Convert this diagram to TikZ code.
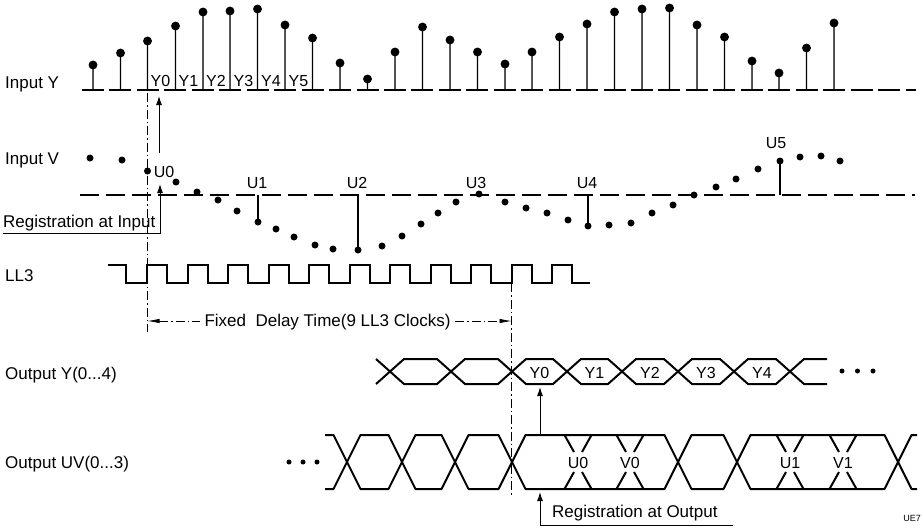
\documentclass[tikz,border=0pt]{standalone}
\usepackage{fontspec}
\setmainfont{Liberation Sans}
\usetikzlibrary{arrows.meta}

\begin{document}
\begin{tikzpicture}[x=1pt,y=1pt,yscale=-1,xscale=1,
	lab/.style={font=\fontsize{17}{20}\selectfont,inner sep=0pt},
	tag/.style={font=\fontsize{16}{19}\selectfont,inner sep=0pt,anchor=base},
	ystem/.style={line width=1.4pt},
	axisline/.style={line width=2.2pt},
	clk/.style={line width=2pt,line join=miter},
	bus/.style={line width=2pt,line join=round},
	regarrow/.style={line width=1pt,-{Latex[length=9pt,width=6pt]}},
	dimline/.style={line width=0.7pt,dash pattern=on 9pt off 3pt on 1.5pt off 3pt}]
		\useasboundingbox (0,0) rectangle (924,530);
		
		\node [lab,anchor=base west] (inY) at (5,88) {Input Y};
		\node [lab,anchor=base west] (inV) at (5,164) {Input V};
		\node [lab,anchor=base west] (ll3) at (5,281) {LL3};
		\node [lab,anchor=base west] (outY) at (5,379) {Output Y(0...4)};
		\node [lab,anchor=base west] (outUV) at (5,468) {Output UV(0...3)};
		
		\draw [axisline,dash pattern=on 22pt off 5.45pt] (82,90) -- (916,90) ;
		\filldraw [ystem] (93,90) -- (93,65) circle [radius=3.7] ;
		\filldraw [ystem] (120.5,90) -- (120.5,53) circle [radius=3.7] ;
		\filldraw [ystem] (147.5,90) -- (147.5,41) circle [radius=3.7] ;
		\filldraw [ystem] (175.5,90) -- (175.5,26) circle [radius=3.7] ;
		\filldraw [ystem] (203,90) -- (203,12) circle [radius=3.7] ;
		\filldraw [ystem] (230,90) -- (230,11) circle [radius=3.7] ;
		\filldraw [ystem] (257.5,90) -- (257.5,9) circle [radius=3.7] ;
		\filldraw [ystem] (285,90) -- (285,25) circle [radius=3.7] ;
		\filldraw [ystem] (312.5,90) -- (312.5,38) circle [radius=3.7] ;
		\filldraw [ystem] (340,90) -- (340,63) circle [radius=3.7] ;
		\filldraw [ystem] (367.5,90) -- (367.5,79) circle [radius=3.7] ;
		\filldraw [ystem] (395,90) -- (395,52) circle [radius=3.7] ;
		\filldraw [ystem] (422.5,90) -- (422.5,27) circle [radius=3.7] ;
		\filldraw [ystem] (450,90) -- (450,40) circle [radius=3.7] ;
		\filldraw [ystem] (477.5,90) -- (477.5,52) circle [radius=3.7] ;
		\filldraw [ystem] (505,90) -- (505,64) circle [radius=3.7] ;
		\filldraw [ystem] (532,90) -- (532,52) circle [radius=3.7] ;
		\filldraw [ystem] (559.5,90) -- (559.5,37) circle [radius=3.7] ;
		\filldraw [ystem] (587,90) -- (587,24) circle [radius=3.7] ;
		\filldraw [ystem] (614.5,90) -- (614.5,12) circle [radius=3.7] ;
		\filldraw [ystem] (642,90) -- (642,9) circle [radius=3.7] ;
		\filldraw [ystem] (669.5,90) -- (669.5,8) circle [radius=3.7] ;
		\filldraw [ystem] (697,90) -- (697,25) circle [radius=3.7] ;
		\filldraw [ystem] (724.5,90) -- (724.5,37) circle [radius=3.7] ;
		\filldraw [ystem] (752,90) -- (752,61) circle [radius=3.7] ;
		\filldraw [ystem] (779,90) -- (779,73) circle [radius=3.7] ;
		\filldraw [ystem] (806.5,90) -- (806.5,48) circle [radius=3.7] ;
		\filldraw [ystem] (834,90) -- (834,23) circle [radius=3.7] ;
		
		\node [tag] (y0) at (160.5,86) {Y0};
		\node [tag] (y1) at (188.5,86) {Y1};
		\node [tag] (y2) at (216,86) {Y2};
		\node [tag] (y3) at (243.5,86) {Y3};
		\node [tag] (y4) at (271,86) {Y4};
		\node [tag] (y5) at (298.5,86) {Y5};
		
		\draw [axisline,dash pattern=on 19pt off 7pt] (80,195) -- (915,195) ;
		\draw [ystem] (258,195) -- (258,222) ;
		\draw [ystem] (358,195) -- (358,250) ;
		\draw [ystem] (588,195) -- (588,226) ;
		\draw [ystem] (780,195) -- (780,161) ;
		\fill (90,158) circle [radius=3.5] (122,160) circle [radius=3.5] (147.5,171) circle [radius=3.5] (176,182) circle [radius=3.5] ;
		\fill (197,192) circle [radius=3.5] (218,200) circle [radius=3.5] (237,211) circle [radius=3.5] (258,222) circle [radius=3.5] ;
		\fill (276,229) circle [radius=3.5] (294,237) circle [radius=3.5] (315,245) circle [radius=3.5] (333,249) circle [radius=3.5] ;
		\fill (358,250) circle [radius=3.5] (382,246) circle [radius=3.5] (402,236) circle [radius=3.5] (421,224) circle [radius=3.5] ;
		\fill (438,213) circle [radius=3.5] (456,202) circle [radius=3.5] (479,194) circle [radius=3.5] (505,202) circle [radius=3.5] ;
		\fill (526,208) circle [radius=3.5] (547,213) circle [radius=3.5] (568,220) circle [radius=3.5] (588,226) circle [radius=3.5] ;
		\fill (609,225) circle [radius=3.5] (631,223) circle [radius=3.5] (652,213) circle [radius=3.5] (673,205) circle [radius=3.5] ;
		\fill (694,195) circle [radius=3.5] (716,187) circle [radius=3.5] (736,179) circle [radius=3.5] (758,169) circle [radius=3.5] ;
		\fill (780,161) circle [radius=3.5] (800,157) circle [radius=3.5] (821,156) circle [radius=3.5] (840,161) circle [radius=3.5] ;
		
		\node [tag] (u0) at (164,177) {U0};
		\node [tag] (u1) at (257,188) {U1};
		\node [tag] (u2) at (357,188) {U2};
		\node [tag] (u3) at (476,188) {U3};
		\node [tag] (u4) at (587,188) {U4};
		\node [tag] (u5) at (776,148) {U5};
		
		\node [lab,anchor=base west] (regIn) at (3,227) {Registration at Input};
		\coordinate (regInTip) at (160,184);
		\coordinate (yFoot) at (159,153);
		\coordinate (yTip) at (159,96);
		\draw [regarrow] (3,233) -| (regInTip) ;
		\draw [regarrow] (yFoot) -- (yTip) ;
		
		\draw [clk] (108,265) -| (126,283) -| (147,265) -| (167,283) -| (187.5,265) -| (207.5,283) -| (228,265) -| (248,283) -| (268.5,265) -| (288.5,283) -| (309,265) -| (329,283) -| (349.5,265) -| (369.5,283) -| (390,265) -| (410,283) -| (430.5,265) -| (450.5,283) -| (471,265) -| (491,283) -| (511.5,265) -| (531.5,283) -| (552,265) -| (572,283) -- (590,283) ;
		
		\draw [dimline] (147.5,93) -- (147.5,332) ;
		\draw [dimline] (511.5,283) -- (511.5,497) ;
		\node [lab,anchor=base] (delay) at (327.5,326) {Fixed\ \ Delay Time(9 LL3 Clocks)};
		\coordinate (delayL) at (200,321);
		\coordinate (delayR) at (455,321);
		\draw [dimline,{Latex[length=12pt,width=4.5pt]}-] (147.5,321) -- (delayL) ;
		\draw [dimline,-{Latex[length=12pt,width=4.5pt]}] (delayR) -- (511.5,321) ;
		
		\draw [bus] (376,359) -- (404,384) -- (437,384) -- (465,359) -- (498,359) -- (526,384) -- (553,384) -- (581,359) -- (608,359) -- (636,384) -- (664,384) -- (692,359) -- (720,359) -- (748,384) -- (776,384) -- (804,359) -- (827,359) ;
		\draw [bus] (376,384) -- (404,359) -- (437,359) -- (465,384) -- (498,384) -- (526,359) -- (553,359) -- (581,384) -- (608,384) -- (636,359) -- (664,359) -- (692,384) -- (720,384) -- (748,359) -- (776,359) -- (804,384) -- (827,384) ;
		\node [tag] (oy0) at (539.5,378) {Y0};
		\node [tag] (oy1) at (594.5,378) {Y1};
		\node [tag] (oy2) at (650,378) {Y2};
		\node [tag] (oy3) at (706,378) {Y3};
		\node [tag] (oy4) at (762,378) {Y4};
		\fill (842,371) circle [radius=2.5] (857.5,371) circle [radius=2.5] (873,371) circle [radius=2.5] ;
		
		\draw [bus] (325,435) -- (333.5,435) -- (360.5,489) -- (388.5,489) -- (415.5,435) -- (441.5,435) -- (468.5,489) -- (498.5,489) -- (525.5,435) -- (664.5,435) -- (691.5,489) -- (723.5,489) -- (750.5,435) -- (884.5,435) -- (911.5,489) -- (917,489) ;
		\draw [bus] (325,489) -- (333.5,489) -- (360.5,435) -- (388.5,435) -- (415.5,489) -- (441.5,489) -- (468.5,435) -- (498.5,435) -- (525.5,489) -- (664.5,489) -- (691.5,435) -- (723.5,435) -- (750.5,489) -- (884.5,489) -- (911.5,435) -- (917,435) ;
		\draw [bus] (564.5,435) -- (574,452) (591.5,435) -- (582,452) (564.5,489) -- (574,472) (591.5,489) -- (582,472) ;
		\draw [bus] (616.5,435) -- (626,452) (643.5,435) -- (634,452) (616.5,489) -- (626,472) (643.5,489) -- (634,472) ;
		\draw [bus] (776.5,435) -- (786,452) (803.5,435) -- (794,452) (776.5,489) -- (786,472) (803.5,489) -- (794,472) ;
		\draw [bus] (829.5,435) -- (839,452) (856.5,435) -- (847,452) (829.5,489) -- (839,472) (856.5,489) -- (847,472) ;
		\node [tag] (ouv0) at (578,468) {U0};
		\node [tag] (ouv1) at (630,468) {V0};
		\node [tag] (ouv2) at (790,468) {U1};
		\node [tag] (ouv3) at (843,468) {V1};
		\fill (289,462) circle [radius=2.5] (303,462) circle [radius=2.5] (317,462) circle [radius=2.5] ;
		
		\coordinate (oyTip) at (540,387);
		\coordinate (uvTop) at (540,434);
		\coordinate (uvTip) at (540,492);
		\draw [regarrow] (uvTop) -- (oyTip) ;
		\node [lab,anchor=base west] (regOut) at (552,517) {Registration at Output};
		\draw [regarrow] (733,525) -| (uvTip) ;
		
		\node [font=\fontsize{9}{10}\selectfont,anchor=base east,inner sep=0pt] (figno) at (921,521) {UE7};
		
		
\end{tikzpicture}
\end{document}
